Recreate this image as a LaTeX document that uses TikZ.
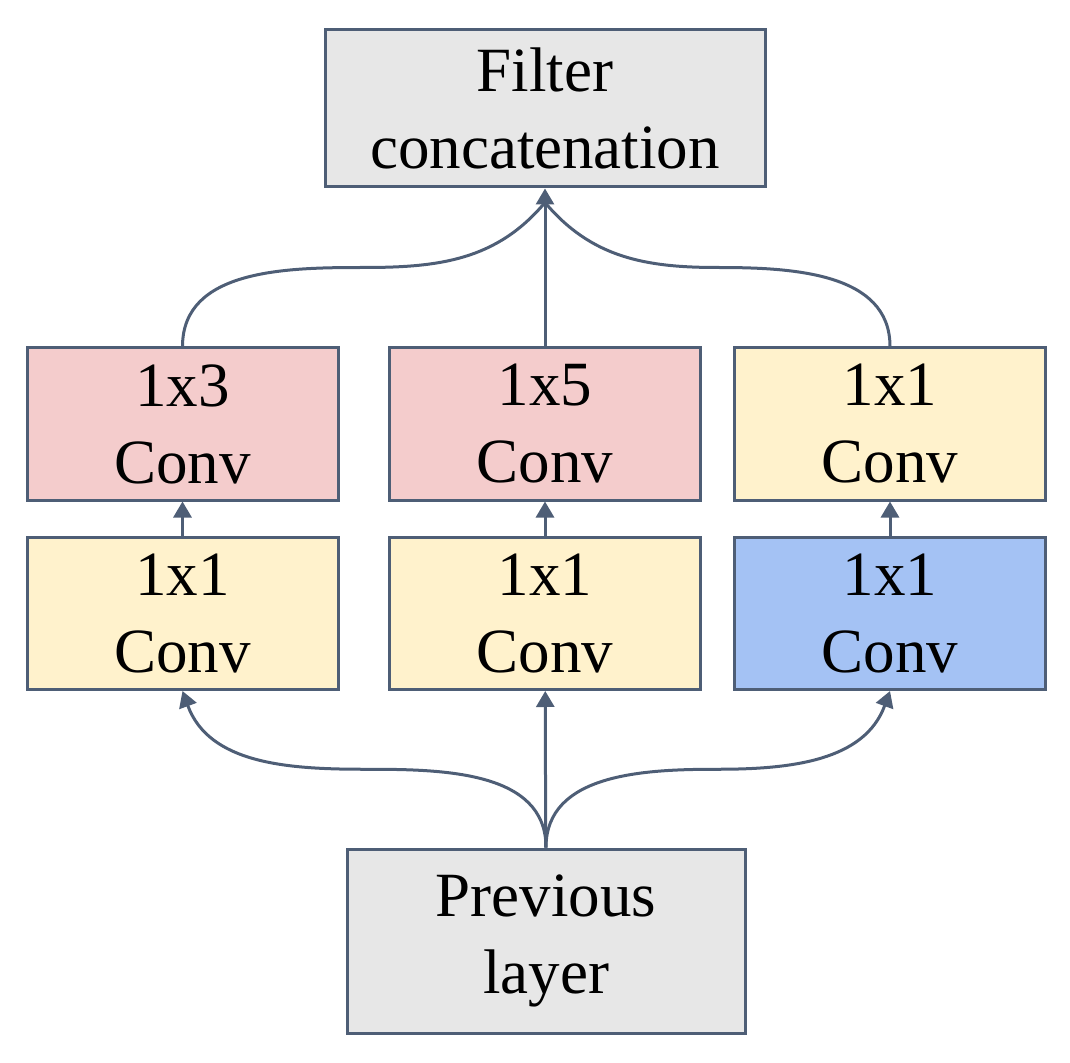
\documentclass[tikz,border=0pt]{standalone}
\usepackage{fontspec}
\setmainfont{Liberation Serif}
\usetikzlibrary{arrows.meta,calc}
\definecolor{bord}{RGB}{78,94,118}
\definecolor{gris}{RGB}{231,231,231}
\definecolor{rose}{RGB}{244,204,204}
\definecolor{jaune}{RGB}{255,242,204}
\definecolor{bleu}{RGB}{164,194,244}
\begin{document}
\begin{tikzpicture}[x=0.5pt,y=0.5pt,
  boite/.style={draw=bord, line width=1.5pt, align=center, inner sep=0pt,
    font=\fontsize{31.5}{38.5}\selectfont},
  conv/.style={boite, minimum width=155.5pt, minimum height=76pt},
  fleche/.style={draw=bord, line width=1.5pt, -{Triangle[width=9pt,length=8pt]}},
  trait/.style={draw=bord, line width=1.5pt}]
\useasboundingbox (0,0) rectangle (1070,1062);
% Les blocs en haut et en bas
\node[boite, fill=gris, minimum width=220pt, minimum height=78.5pt] (concat) at (545,953.5) {Filter\\concatenation};
\node[boite, fill=gris, minimum width=199pt, minimum height=92pt] (prev) at (546,121) {Previous\\layer};
% Rangée du haut
\node[conv, fill=rose] (c13) at (182.5,638) {1x3\\Conv};
\node[conv, fill=rose] (c15) at (545,638) {1x5\\Conv};
\node[conv, fill=jaune] (c11c) at (890,638) {1x1\\Conv};
% Rangée du bas
\node[conv, fill=jaune] (c11a) at (182.5,448.5) {1x1\\Conv};
\node[conv, fill=jaune] (c11b) at (545,448.5) {1x1\\Conv};
\node[conv, fill=bleu] (c11d) at (890,448.5) {1x1\\Conv};

% Flèches courtes entre les deux rangées
\draw[fleche] (c11a) -- (c13);
\draw[fleche] (c11b) -- (c15);
\draw[fleche] (c11d) -- (c11c);

% Vers la concaténation : les courbes finissent à la base de la pointe
\coordinate (base) at ([yshift=-7pt]concat.south);
\draw[fleche] (c15) -- (concat);
\draw[trait] (c13.north) to[out=90,in=180] ($(c13.north)!0.5!(concat.south)$) to[out=0,in=-130] (base);
\draw[trait] (c11c.north) to[out=90,in=0] ($(c11c.north)!0.5!(concat.south)$) to[out=180,in=-50] (base);

% Depuis la couche précédente
\draw[fleche] (prev) -- (c11b);
\draw[fleche] (prev.north) to[out=90,in=0] ($(prev.north)!0.5!(c11a.south)$) to[out=180,in=-70] (c11a.south);
\draw[fleche] (prev.north) to[out=90,in=180] ($(prev.north)!0.5!(c11d.south)$) to[out=0,in=-110] (c11d.south);
\end{tikzpicture}
\end{document}
